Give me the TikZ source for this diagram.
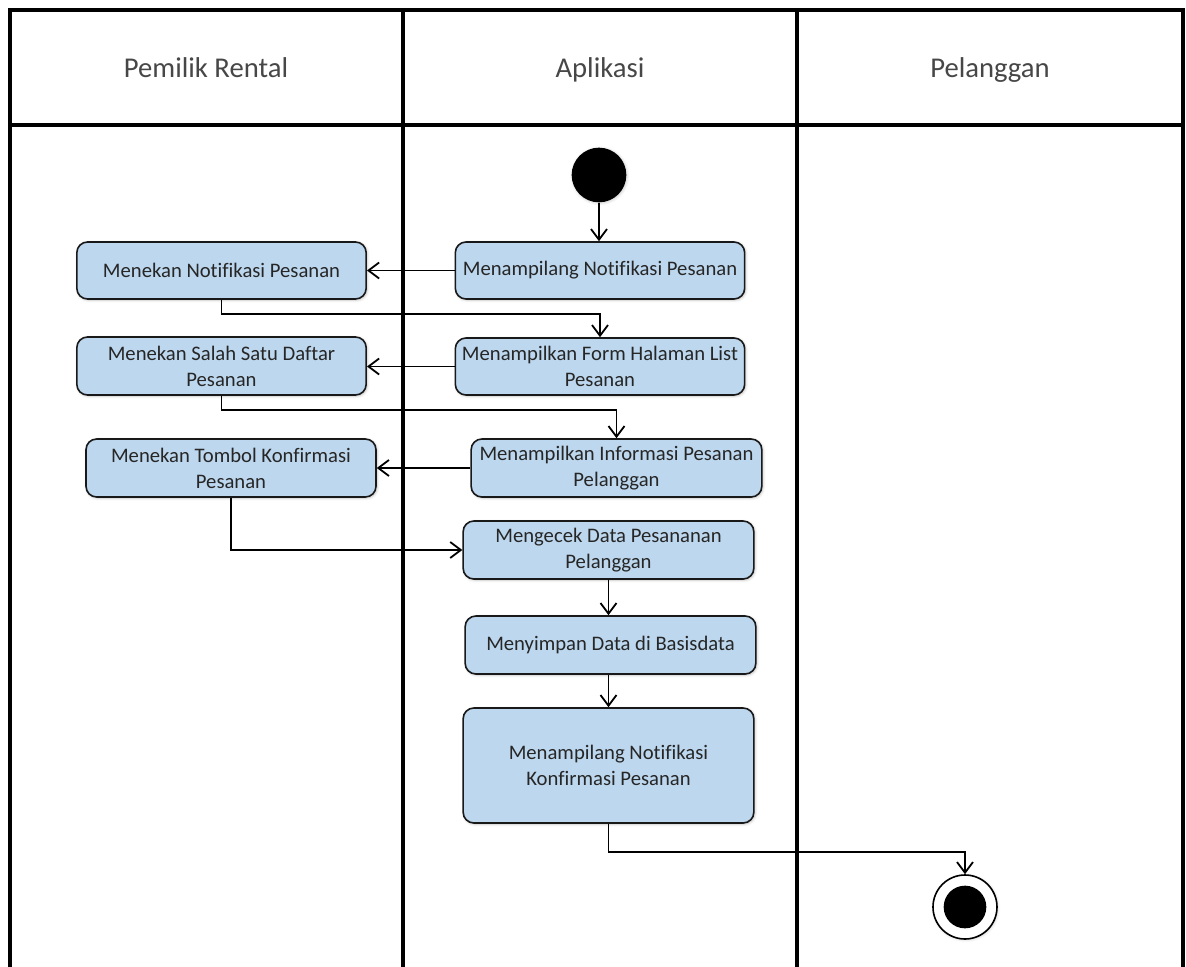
\documentclass[tikz,border=0pt]{standalone}
\usepackage{fontspec}
\setmainfont{Carlito}[Ligatures=CommonOff]
\usetikzlibrary{arrows.meta,shadows.blur}
\definecolor{actfill}{RGB}{189,215,238}
\definecolor{inktext}{RGB}{38,38,38}
\tikzset{
  lane/.style={line width=2.6pt, line cap=rect},
  act/.style={draw=black!90, line width=1.2pt, fill=actfill, rounded corners=8pt,
    align=center, font=\fontsize{15.5}{19.5}\selectfont, text=inktext, inner sep=2pt,
    minimum width=217pt,
    blur shadow={shadow xshift=0.8pt, shadow yshift=-0.8pt, shadow opacity=25, shadow blur radius=2pt}},
  flow/.style={line width=1.35pt, -{Straight Barb[length=8pt,width=12pt,line width=1.35pt]}},
  lanehead/.style={font=\fontsize{21.5}{26}\selectfont, text=inktext!85, anchor=base},
}
\begin{document}
\begin{tikzpicture}[x=0.75pt,y=-0.75pt]
\useasboundingbox (0,0) rectangle (1186,967);

% swimlane frame
\draw[lane] (10,10) -- (1183,10);
\draw[lane] (10,125) -- (1183,125);
\foreach \lx in {10,403,797,1183}
  \draw[lane] (\lx,10) -- (\lx,967);

% lane titles
\node[lanehead] (hOwner) at (206,77) {Pemilik Rental};
\node[lanehead] (hApp) at (600,77) {Aplikasi};
\node[lanehead] (hCust) at (990,77) {Pelanggan};

% initial state
\node[circle, fill=black, minimum size=41pt, inner sep=0pt,
  blur shadow={shadow xshift=0.6pt, shadow yshift=-0.6pt, shadow opacity=20, shadow blur radius=2pt}] (start) at (599,175) {};

% activities
\node[act, minimum height=42.75pt] (A1) at (600,270.5) {Menampilang Notifikasi Pesanan};
\node[act, minimum height=42.75pt] (P1) at (221.5,270.5) {Menekan Notifikasi Pesanan};
\node[act, minimum height=42.75pt] (A2) at (600,366.5) {Menampilkan Form Halaman List\\Pesanan};
\node[act, minimum height=43.5pt] (P2) at (221.5,366) {Menekan Salah Satu Daftar\\Pesanan};
\node[act, minimum height=43.5pt, minimum width=218pt] (A3) at (616.5,468) {Menampilkan Informasi Pesanan\\Pelanggan};
\node[act, minimum height=43.5pt, minimum width=217.5pt] (P3) at (231,468) {Menekan Tombol Konfirmasi\\Pesanan};
\node[act, minimum height=43.5pt, minimum width=218pt] (A4) at (608.5,550) {Mengecek Data Pesananan\\Pelanggan};
\node[act, minimum height=43.5pt, minimum width=218pt] (A5) at (610.5,645) {Menyimpan Data di Basisdata};
\node[act, minimum height=86.25pt, minimum width=218pt] (A6) at (608.5,765.5) {Menampilang Notifikasi\\Konfirmasi Pesanan};

% final state
\node[circle, draw=black, line width=1.2pt, fill=white, minimum size=48pt, inner sep=0pt,
  blur shadow={shadow xshift=0.6pt, shadow yshift=-0.6pt, shadow opacity=20, shadow blur radius=2pt}] (finish) at (965,907) {};
\node[circle, fill=black, minimum size=32pt, inner sep=0pt] (finishDot) at (finish) {};

% control flow
\draw[flow] (start.south) -- (start.south |- A1.north);
\draw[flow] (A1.west) -- (P1.east);
\draw[flow] (P1.south) -- ++(0,14) -| (A2.north);
\draw[flow] (A2.west) -- (A2.west -| P2.east);
\draw[flow] (P2.south) -- ++(0,14) -| (A3.north);
\draw[flow] (A3.west) -- (P3.east);
\draw[flow] (P3.south) |- (A4.west);
\draw[flow] (A4.south) -- (A4.south |- A5.north);
\draw[flow] (A5.south -| A4.south) -- (A4.south |- A6.north);
\draw[flow] (A6.south) -- ++(0,28) -| (finish.north);
\end{tikzpicture}
\end{document}
